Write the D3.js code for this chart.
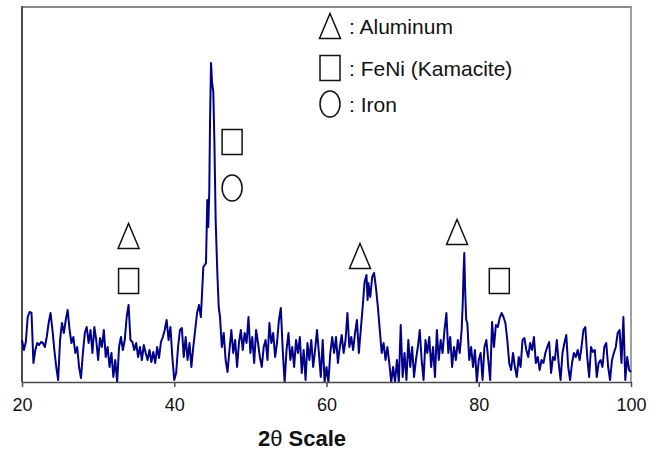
<!DOCTYPE html>
<html>
<head>
<meta charset="utf-8">
<script src="https://cdn.jsdelivr.net/npm/d3@7"></script>
<style>
  html, body { margin: 0; padding: 0; background: #fff; }
  svg { display: block; }
</style>
</head>
<body>
<svg id="chart" width="660" height="450"></svg>
<script>
// ---- data (2θ in degrees, intensity in arbitrary units) ----
const scan = [
[20,42],[20.25,32],[20.5,40],[20.75,65],[21,70],[21.25,69],[21.5,19],[21.75,32],[22,39],[22.25,37],[22.5,40],[22.75,39],
[23,35],[23.25,45],[23.5,59],[23.75,69],[24,52],[24.25,32],[24.5,15],[24.75,2],[25,42],[25.25,59],[25.5,49],[25.75,62],
[26,72],[26.25,52],[26.5,39],[26.75,45],[27,29],[27.25,35],[27.5,15],[27.75,4],[28,29],[28.25,49],[28.5,55],[28.75,39],
[29,52],[29.25,29],[29.5,55],[29.75,42],[30,22],[30.25,44],[30.5,35],[30.75,52],[31,25],[31.25,35],[31.5,15],[31.75,29],
[32,5],[32.25,22],[32.5,0],[32.75,35],[33,45],[33.25,32],[33.5,42],[33.75,65],[34,77],[34.25,42],[34.5,40],[34.75,32],
[35,39],[35.25,25],[35.5,35],[35.75,22],[36,37],[36.25,29],[36.5,22],[36.75,32],[37,20],[37.25,30],[37.5,19],[37.75,35],
[38,24],[38.25,40],[38.5,45],[38.75,52],[39,62],[39.25,42],[39.5,55],[39.75,25],[40,2],[40.25,9],[40.5,35],[40.75,52],
[41,54],[41.25,25],[41.5,45],[41.75,22],[42,39],[42.25,15],[42.5,35],[42.75,52],[43,69],[43.25,77],[43.5,65],[43.82,115],
[44,117],[44.17,119],[44.34,182],[44.47,155],[44.6,190],[44.7,260],[44.83,319],[44.96,300],[45.13,290],[45.27,242],
[45.44,162],[45.66,109],[45.84,75],[46.01,65],[46.25,35],[46.5,49],[46.75,22],[47,10],[47.25,32],[47.5,52],[47.75,29],
[48,42],[48.25,15],[48.5,39],[48.75,52],[49,32],[49.25,49],[49.5,39],[49.75,65],[50,29],[50.25,45],[50.5,19],[50.75,52],
[51,39],[51.25,25],[51.5,15],[51.75,35],[52,42],[52.25,22],[52.5,59],[52.75,39],[53,49],[53.25,25],[53.5,39],[53.75,62],
[54,74],[54.25,32],[54.5,0],[54.75,32],[55,49],[55.25,22],[55.5,35],[55.75,15],[56,42],[56.25,29],[56.5,45],[56.75,9],
[57,32],[57.25,2],[57.5,39],[57.75,22],[58,42],[58.25,15],[58.5,32],[58.75,52],[59,29],[59.25,5],[59.5,42],[59.75,0],
[60,15],[60.25,0],[60.5,29],[60.75,45],[61,29],[61.25,45],[61.5,19],[61.75,35],[62,47],[62.25,29],[62.5,42],[62.75,69],
[63,35],[63.25,45],[63.5,32],[63.75,49],[64,62],[64.25,29],[64.5,52],[64.75,75],[65,100],[65.25,107],[65.4,82],[65.5,99],
[65.75,85],[66,105],[66.25,109],[66.5,94],[66.75,75],[67,52],[67.25,29],[67.5,39],[67.75,22],[68,35],[68.25,19],[68.5,0],
[68.75,15],[69,0],[69.25,22],[69.5,0],[69.75,57],[70,5],[70.25,29],[70.5,2],[70.75,42],[71,15],[71.25,35],[71.5,5],
[71.75,22],[72,35],[72.25,52],[72.5,22],[72.75,2],[73,42],[73.25,29],[73.5,45],[73.75,15],[74,35],[74.25,5],[74.5,52],
[74.75,22],[75,42],[75.25,29],[75.5,52],[75.75,69],[76,29],[76.25,45],[76.5,15],[76.75,35],[77,22],[77.25,42],[77.5,29],
[77.75,52],[77.9,79],[78,109],[78.1,129],[78.2,95],[78.35,62],[78.5,59],[78.75,22],[79,35],[79.25,15],[79.5,32],[79.75,0],
[80,22],[80.25,29],[80.5,2],[80.75,35],[81,42],[81.25,22],[81.5,2],[81.75,60],[82,35],[82.25,57],[82.5,55],[82.75,64],
[83,69],[83.25,65],[83.5,59],[83.75,42],[84,19],[84.25,12],[84.5,29],[84.75,15],[85,5],[85.25,25],[85.5,15],[85.75,42],
[86,44],[86.25,32],[86.5,25],[86.75,39],[87,32],[87.25,45],[87.5,19],[87.75,25],[88,12],[88.25,22],[88.5,19],[88.75,29],
[89,35],[89.25,40],[89.5,9],[89.75,25],[90,22],[90.25,42],[90.5,19],[90.75,2],[91,29],[91.25,39],[91.5,47],[91.75,15],
[92,2],[92.25,19],[92.5,29],[92.75,25],[93,32],[93.25,22],[93.5,35],[93.75,52],[94,55],[94.25,25],[94.5,5],[94.75,35],
[95,30],[95.25,32],[95.5,5],[95.75,19],[96,22],[96.25,15],[96.5,35],[96.75,39],[97,15],[97.25,2],[97.5,22],[97.75,29],
[98,35],[98.25,49],[98.5,52],[98.75,19],[99,65],[99.25,2],[99.5,25],[99.75,12],[100,10]
];
const xTicks = [20, 40, 60, 80, 100];
const xTitle = ["2", "\u03B8", " Scale"];
const phases = [
  { shape: "triangle", label: ": Aluminum" },
  { shape: "square",   label: ": FeNi (Kamacite)" },
  { shape: "circle",   label: ": Iron" }
];
// peak annotations: [2θ, intensity level, shape]
const peakMarks = [
  [34.0, 146, "triangle"], [34.0, 101, "square"],
  [47.6, 240, "square"],   [47.6, 194, "circle"],
  [64.4, 126, "triangle"],
  [77.15, 150, "triangle"],
  [82.7, 101, "square"]
];

// ---- layout ----
const svg = d3.select("#chart");
const L = 22, R = 631, T = 7, B = 382;
const x = d3.scaleLinear().domain([20, 100]).range([L, R]);
const y = d3.scaleLinear().domain([0, 375]).range([B, T]);
const font = "Arial, 'Liberation Sans', Helvetica, sans-serif";

// frame
svg.append("line").attr("x1", L - 1).attr("x2", R + 1).attr("y1", T).attr("y2", T)
  .attr("stroke", "#8a8a8a").attr("stroke-width", 2);
svg.append("line").attr("x1", R).attr("x2", R).attr("y1", T).attr("y2", B)
  .attr("stroke", "#a0a0a0").attr("stroke-width", 2);
svg.append("line").attr("x1", L).attr("x2", L).attr("y1", T - 1).attr("y2", B)
  .attr("stroke", "#4a4a4a").attr("stroke-width", 2);

// trace
const line = d3.line().x(d => x(d[0])).y(d => y(d[1]));
svg.append("path").datum(scan)
  .attr("d", line)
  .attr("fill", "none")
  .attr("stroke", "#000088")
  .attr("stroke-width", 2)
  .attr("stroke-linejoin", "round");

// x axis
const ax = svg.append("g").attr("transform", `translate(0,${B})`)
  .call(d3.axisBottom(x).tickValues(xTicks).tickSize(5).tickPadding(11).tickSizeOuter(0));
ax.select(".domain").attr("stroke", "#4a4a4a").attr("stroke-width", 1.6);
ax.selectAll(".tick line").attr("stroke", "#4a4a4a").attr("stroke-width", 1.5);
ax.selectAll(".tick text").attr("font-family", font).attr("font-size", 18).attr("fill", "#111");

// x title
const t = svg.append("text").attr("x", 302).attr("y", 446)
  .attr("text-anchor", "middle").attr("font-family", font)
  .attr("font-size", 22).attr("font-weight", "bold").attr("fill", "#111");
t.append("tspan").text(xTitle[0]);
t.append("tspan").attr("font-weight", "normal").text(xTitle[1]);
t.append("tspan").text(xTitle[2]);

// symbols
function drawShape(g, shape, cx, cy) {
  if (shape === "triangle") {
    g.append("path")
      .attr("d", `M${cx},${cy - 12.5}L${cx + 10.5},${cy + 12.5}L${cx - 10.5},${cy + 12.5}Z`)
      .attr("fill", "none").attr("stroke", "#111").attr("stroke-width", 1.5);
  } else if (shape === "square") {
    g.append("rect").attr("x", cx - 10).attr("y", cy - 12.5).attr("width", 20).attr("height", 25)
      .attr("fill", "none").attr("stroke", "#111").attr("stroke-width", 1.5);
  } else {
    g.append("ellipse").attr("cx", cx).attr("cy", cy).attr("rx", 10).attr("ry", 13)
      .attr("fill", "none").attr("stroke", "#111").attr("stroke-width", 1.5);
  }
}
const marks = svg.append("g");
peakMarks.forEach(m => drawShape(marks, m[2], x(m[0]), y(m[1])));

// legend
const legRows = [26, 68, 104];
const leg = svg.append("g");
phases.forEach((p, i) => {
  drawShape(leg, p.shape, 330, legRows[i]);
  leg.append("text").attr("x", 349).attr("y", legRows[i] + 8)
    .attr("font-family", font).attr("font-size", 21).attr("fill", "#111")
    .text(p.label);
});
</script>
</body>
</html>
